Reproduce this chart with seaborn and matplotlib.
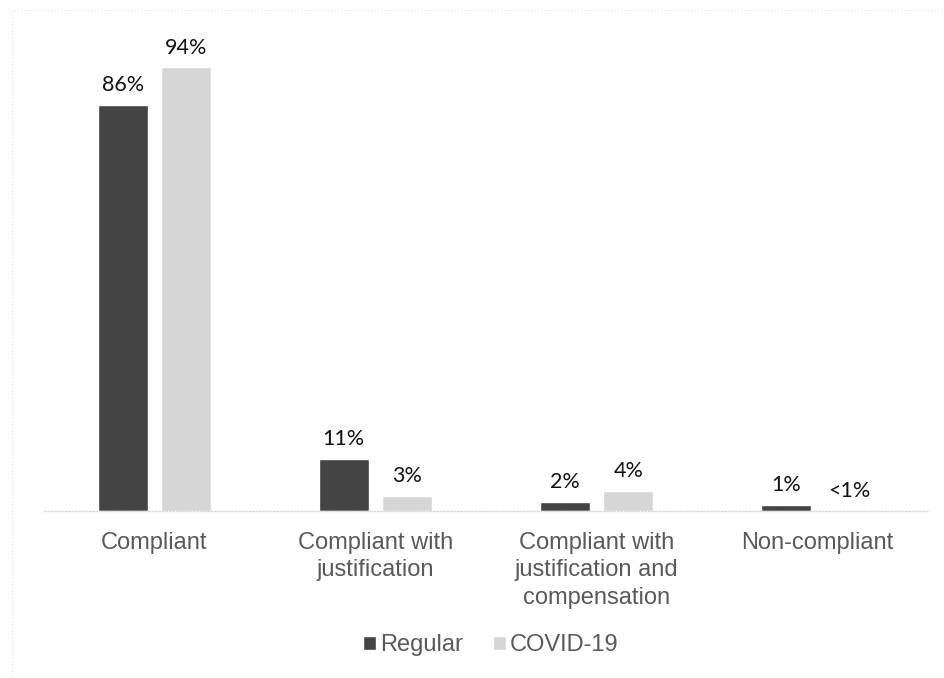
import numpy as np
import pandas as pd
import matplotlib
matplotlib.use("Agg")
import matplotlib.pyplot as plt
import seaborn as sns
from matplotlib.patches import Rectangle

categories = ["Compliant", "Compliant with\njustification",
              "Compliant with\njustification and\ncompensation", "Non-compliant"]
regular = [86, 11, 2, 1.3]
covid = [94, 3.2, 4.2, 0]
regular_labels = ["86%", "11%", "2%", "1%"]
covid_labels = ["94%", "3%", "4%", "<1%"]
series = ["Regular", "COVID-19"]

df = pd.DataFrame({
    "category": categories * 2,
    "value": regular + covid,
    "series": [series[0]] * 4 + [series[1]] * 4,
})

sns.set_style("white")
plt.rcParams["font.family"] = ["Liberation Sans", "DejaVu Sans"]

fig = plt.figure(figsize=(9.44, 6.78), dpi=100)
ax = fig.add_axes([44 / 944, 167 / 678, 884 / 944, 472 / 678])

sns.barplot(data=df, x="category", y="value", hue="series", order=categories,
            hue_order=series, palette=["#444444", "#d6d6d6"], width=0.575,
            gap=0.21, ax=ax, saturation=1, legend=True)

ax.set_xlim(-0.5, 3.5)
ax.set_ylim(0, 100)
ax.set_xlabel("")
ax.set_ylabel("")
ax.set_yticks([])
ax.tick_params(axis="x", length=0, labelsize=17, labelcolor="#595959", pad=15)
for lbl in ax.get_xticklabels():
    lbl.set_linespacing(1.32)
    lbl.set_verticalalignment("top")
for s in ["top", "right", "left"]:
    ax.spines[s].set_visible(False)
ax.spines["bottom"].set_color("#d9d9d9")
ax.spines["bottom"].set_linestyle((0, (1, 1.5)))
ax.spines["bottom"].set_linewidth(1)

for cont, labs in zip(ax.containers, [regular_labels, covid_labels]):
    ax.bar_label(cont, labels=labs, padding=7, fontsize=15.5, color="#111111",
                 family=["Lato", "DejaVu Sans"])

handles, labels = ax.get_legend_handles_labels()
ax.legend_.remove()
fig.legend(handles, labels, loc="center", bbox_to_anchor=(491 / 944, 33 / 678),
           ncol=2, frameon=False, fontsize=17, handlelength=0.55, handleheight=0.55,
           handletextpad=0.15, columnspacing=1.3, labelcolor="#595959")

fig.patches.append(Rectangle((12 / 944, -0.1), 1.2, (678 - 10) / 678 + 0.1,
                             transform=fig.transFigure, fill=False,
                             edgecolor="#e0e0e0", linewidth=0.8,
                             linestyle=(0, (1, 2))))

fig.savefig("out.png", dpi=100)
